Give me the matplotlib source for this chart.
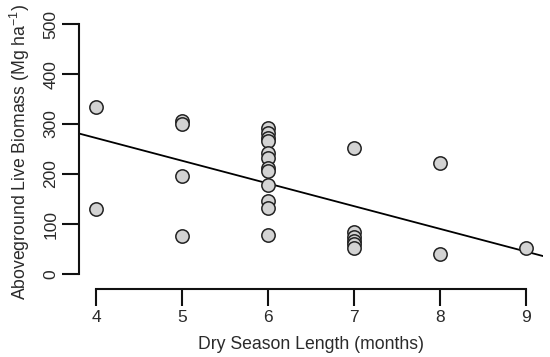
import matplotlib
matplotlib.use('Agg')
import matplotlib.pyplot as plt
import numpy as np

# dry season length (months) and aboveground live biomass (Mg/ha)
dry_season = [4, 4,
              5, 5, 5, 5,
              6, 6, 6, 6, 6, 6, 6, 6, 6, 6, 6, 6,
              7, 7, 7, 7, 7, 7,
              8, 8,
              9]
biomass = [334, 130,
           307, 300, 196, 76,
           293, 282, 273, 267, 243, 233, 213, 206, 178, 146, 133, 79,
           253, 84, 75, 67, 60, 53,
           222, 40,
           52]

# fitted regression line
intercept = 453.6
slope = -45.4

x_ticks = [4, 5, 6, 7, 8, 9]
y_ticks = [0, 100, 200, 300, 400, 500]

plt.rcParams['font.family'] = ['Liberation Sans', 'DejaVu Sans']
plt.rcParams['mathtext.default'] = 'regular'

fig = plt.figure(figsize=(5.5, 3.57), dpi=100)
ax = fig.add_axes([0.1436, 0.1905, 0.8436, 0.770])

ax.plot(dry_season, biomass, 'o', ms=9.6, mfc='#d3d3d3', mec='#222222', mew=1.1, zorder=3)

xl = np.array([3.8, 9.2])
ax.plot(xl, intercept + slope * xl, color='black', lw=1.3, zorder=2)

ax.set_xlim(3.8, 9.2)
ax.set_ylim(-30, 520)

for s in ['top', 'right']:
    ax.spines[s].set_visible(False)
ax.spines['left'].set_bounds(0, 500)
ax.spines['bottom'].set_bounds(4, 9)
for s in ['left', 'bottom']:
    ax.spines[s].set_linewidth(1.5)
    ax.spines[s].set_color('#111111')

ax.set_xticks(x_ticks)
ax.set_yticks(y_ticks)
ax.set_yticklabels([str(v) for v in y_ticks], rotation=90, va='center')
ax.tick_params(length=12, width=1.5, labelsize=12.5, colors='#111111', labelcolor='#2a2a2a', pad=3)

ax.set_xlabel('Dry Season Length (months)', fontsize=12.7, color='#2a2a2a', labelpad=8)
ax.set_ylabel('Aboveground Live Biomass (Mg ha$^{-1}$)', fontsize=12.7, color='#2a2a2a', labelpad=8)

fig.savefig('out.png', dpi=100)
